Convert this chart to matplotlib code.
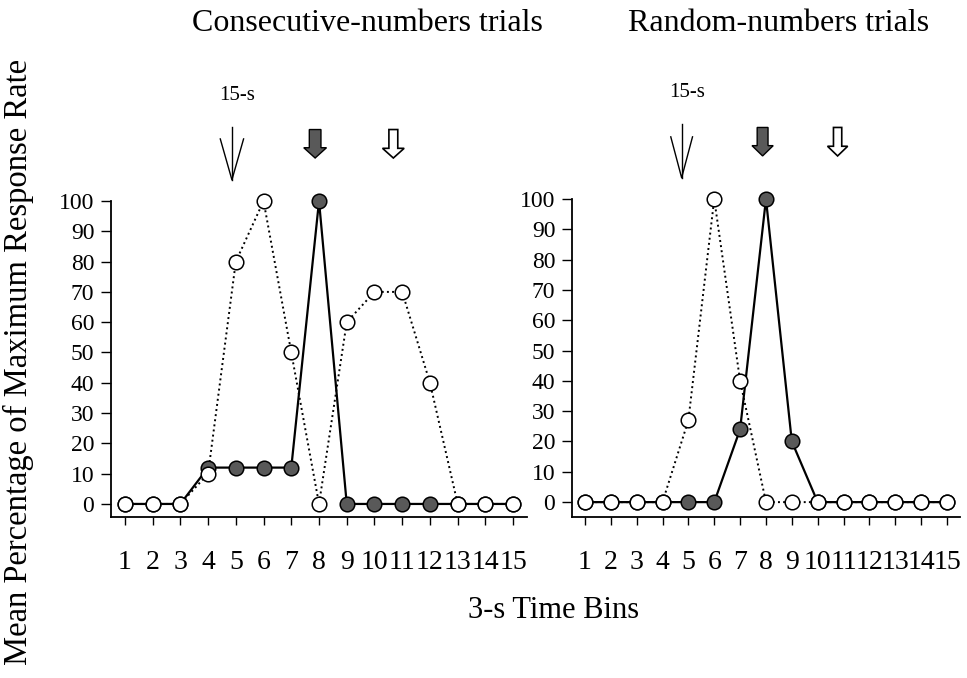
import numpy as np
import matplotlib
matplotlib.use("Agg")
import matplotlib.pyplot as plt
from matplotlib.patches import FancyArrow

plt.rcParams["font.family"] = ["Liberation Serif", "DejaVu Serif"]

bins = np.arange(1, 16)

# consecutive-numbers trials
consec_open = [0, 0, 0, 10, 80, 100, 50, 0, 60, 70, 70, 40, 0, 0, 0]
consec_filled = [0, 0, 0, 12, 12, 12, 12, 100, 0, 0, 0, 0, 0, 0, 0]

# random-numbers trials
random_open = [0, 0, 0, 0, 27, 100, 40, 0, 0, 0, 0, 0, 0, 0, 0]
random_filled = [0, 0, 0, 0, 0, 0, 24, 100, 20, 0, 0, 0, 0, 0, 0]

titles = ["Consecutive-numbers trials", "Random-numbers trials"]
yticks = np.arange(0, 101, 10)

fig = plt.figure(figsize=(9.67, 6.78), dpi=100)
ax1 = fig.add_axes([0.1148, 0.2375, 0.4302, 0.4660])
ax2 = fig.add_axes([0.5915, 0.2375, 0.4012, 0.4690])

fill_col = "#595959"


def panel(ax, open_vals, filled_vals, ybot):
    ax.plot(bins, filled_vals, "-", color="black", lw=1.6, zorder=2,
            clip_on=False)
    ax.plot(bins, open_vals, ":", color="black", lw=1.4, zorder=2,
            clip_on=False)
    ax.plot(bins, filled_vals, "o", ms=10.5, mfc=fill_col, mec="black",
            mew=1.1, zorder=3, clip_on=False)
    ax.plot(bins, open_vals, "o", ms=10.5, mfc="white", mec="black",
            mew=1.1, zorder=4, clip_on=False)
    ax.set_xlim(0.5, 15.5)
    ax.set_ylim(ybot, 100)
    ax.set_xticks(bins)
    ax.set_yticks(yticks)
    ax.spines["top"].set_visible(False)
    ax.spines["right"].set_visible(False)
    ax.spines["left"].set_linewidth(1.3)
    ax.spines["bottom"].set_linewidth(1.3)
    ax.tick_params(axis="y", direction="out", length=7, width=1.0,
                   pad=5, labelsize=17)
    ax.tick_params(axis="x", direction="out", length=6, width=1.0,
                   pad=18, labelsize=20)


def arrows(ax, x_thin, x_fill, x_hollow):
    # thin "15-s" arrow: shaft plus two long barbs
    ax.plot([x_thin, x_thin], [124.6, 107.0], color="black", lw=1.0,
            clip_on=False)
    ax.plot([x_thin - 0.42, x_thin, x_thin + 0.42], [120.5, 107.0, 120.5],
            color="black", lw=1.0, clip_on=False)
    ax.text(x_thin + 0.2, 135, "15-s", ha="center", va="center",
            fontsize=15)
    ax.add_patch(FancyArrow(x_fill, 123.6, 0, -9.4, width=0.42,
                            head_width=0.82, head_length=3.4,
                            length_includes_head=True, fc=fill_col,
                            ec="black", lw=1.0, clip_on=False))
    ax.add_patch(FancyArrow(x_hollow, 123.6, 0, -9.4, width=0.32,
                            head_width=0.78, head_length=3.2,
                            length_includes_head=True, fc="white",
                            ec="black", lw=1.2, clip_on=False))


panel(ax1, consec_open, consec_filled, -4.3)
panel(ax2, random_open, random_filled, -4.9)
arrows(ax1, 4.86, 7.86, 10.68)
arrows(ax2, 4.74, 7.87, 10.77)

fig.text(0.3795, 0.965, titles[0], ha="center", va="center", fontsize=23)
fig.text(0.8056, 0.965, titles[1], ha="center", va="center", fontsize=23)
fig.text(0.572, 0.100, "3-s Time Bins", ha="center", va="center",
         fontsize=22)
fig.text(0.019, 0.466, "Mean Percentage of Maximum Response Rate",
         ha="center", va="center", rotation=90, fontsize=23.5)

fig.savefig("out.png", dpi=100)
